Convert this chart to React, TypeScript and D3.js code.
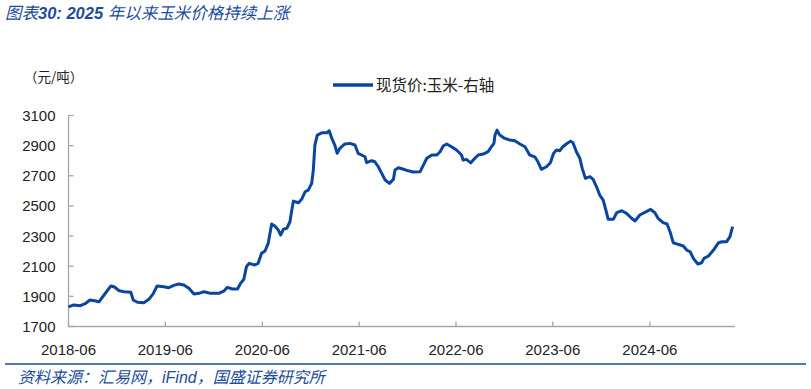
import React, { useEffect, useRef } from "react";
import * as d3 from "d3";

// 现货价:玉米 (元/吨)
const dates = [
  "2018-06-01", "2018-06-21", "2018-07-16", "2018-08-05", "2018-08-21", "2018-09-12", "2018-09-24",
  "2018-10-13", "2018-11-08", "2018-11-20", "2018-12-09", "2018-12-28", "2019-01-22", "2019-01-31",
  "2019-02-16", "2019-03-12", "2019-03-31", "2019-04-16", "2019-05-01", "2019-05-26", "2019-06-14",
  "2019-07-03", "2019-07-22", "2019-08-10", "2019-08-29", "2019-09-17", "2019-10-06", "2019-10-25",
  "2019-11-19", "2019-12-20", "2020-01-09", "2020-01-21", "2020-02-09", "2020-02-28", "2020-03-11",
  "2020-03-23", "2020-04-02", "2020-04-12", "2020-05-03", "2020-05-16", "2020-05-29", "2020-06-11",
  "2020-06-23", "2020-07-06", "2020-07-18", "2020-07-31", "2020-08-09", "2020-08-19", "2020-09-01",
  "2020-09-13", "2020-09-20", "2020-09-26", "2020-10-15", "2020-10-27", "2020-11-09", "2020-11-21",
  "2020-12-04", "2020-12-10", "2020-12-16", "2020-12-25", "2021-01-11", "2021-01-30", "2021-02-08",
  "2021-02-18", "2021-03-01", "2021-03-10", "2021-03-20", "2021-04-08", "2021-04-27", "2021-05-16",
  "2021-05-28", "2021-06-10", "2021-06-23", "2021-06-29", "2021-07-18", "2021-07-30", "2021-08-12",
  "2021-08-25", "2021-09-07", "2021-09-23", "2021-10-08", "2021-10-14", "2021-10-27", "2021-11-15",
  "2021-12-03", "2021-12-22", "2022-01-17", "2022-01-29", "2022-02-11", "2022-03-02", "2022-03-21",
  "2022-04-02", "2022-04-14", "2022-04-27", "2022-05-15", "2022-06-03", "2022-06-22", "2022-06-28",
  "2022-07-10", "2022-07-27", "2022-08-11", "2022-08-24", "2022-09-12", "2022-09-30", "2022-10-13",
  "2022-10-22", "2022-10-26", "2022-11-03", "2022-11-13", "2022-12-02", "2022-12-21", "2023-01-09",
  "2023-01-28", "2023-02-16", "2023-03-06", "2023-03-25", "2023-04-06", "2023-04-19", "2023-05-08",
  "2023-05-23", "2023-06-04", "2023-06-15", "2023-06-27", "2023-07-09", "2023-07-22", "2023-08-07",
  "2023-08-16", "2023-08-29", "2023-09-11", "2023-09-20", "2023-10-02", "2023-10-19", "2023-10-31",
  "2023-11-13", "2023-11-25", "2023-12-08", "2023-12-18", "2023-12-27", "2024-01-15", "2024-01-28",
  "2024-02-16", "2024-03-05", "2024-03-24", "2024-04-06", "2024-04-24", "2024-05-13", "2024-06-04",
  "2024-06-20", "2024-07-02", "2024-07-21", "2024-08-05", "2024-08-16", "2024-08-28", "2024-09-16",
  "2024-10-05", "2024-10-18", "2024-10-31", "2024-11-12", "2024-11-29", "2024-12-13", "2024-12-22",
  "2025-01-08", "2025-01-27", "2025-02-15", "2025-02-28", "2025-03-17", "2025-03-30", "2025-04-09",
];

const prices = [
  1830, 1843, 1838, 1854, 1876, 1869, 1864,
  1909, 1969, 1964, 1937, 1931, 1927, 1876,
  1861, 1858, 1880, 1916, 1969, 1964, 1957,
  1973, 1982, 1975, 1953, 1916, 1920, 1931,
  1920, 1920, 1937, 1960, 1949, 1949, 1987,
  2013, 2097, 2119, 2108, 2119, 2186, 2201,
  2252, 2380, 2367, 2340, 2307, 2345, 2351,
  2395, 2473, 2532, 2521, 2544, 2594, 2605,
  2650, 2738, 2904, 2970, 2985, 2985, 2999,
  2948, 2904, 2849, 2882, 2911, 2915, 2904,
  2849, 2838, 2826, 2787, 2800, 2793, 2760,
  2716, 2672, 2650, 2676, 2738, 2753, 2743,
  2733, 2725, 2727, 2771, 2816, 2838, 2838,
  2860, 2897, 2911, 2893, 2871, 2838, 2804,
  2809, 2786, 2816, 2838, 2844, 2860, 2893,
  2915, 2970, 3003, 2970, 2948, 2937, 2932,
  2911, 2893, 2838, 2826, 2793, 2743, 2760,
  2787, 2849, 2871, 2866, 2893, 2911, 2930,
  2919, 2859, 2816, 2749, 2683, 2694, 2676,
  2627, 2572, 2539, 2473, 2411, 2411, 2455,
  2468, 2451, 2418, 2400, 2440, 2457, 2477,
  2455, 2418, 2389, 2380, 2329, 2256, 2245,
  2234, 2207, 2196, 2152, 2115, 2123, 2152,
  2168, 2207, 2256, 2262, 2262, 2296, 2362,
];

const yTicks = [1700, 1900, 2100, 2300, 2500, 2700, 2900, 3100];
const xTickLabels = ["2018-06", "2019-06", "2020-06", "2021-06", "2022-06", "2023-06", "2024-06"];

const WIDTH = 811;
const HEIGHT = 389;
const LINE_COLOR = "#0a469f";
const TEXT_BLUE = "#1a4d9c";
const AXIS_COLOR = "#a6a6a6";
const CJK = "'Noto Sans CJK SC', 'Liberation Sans', sans-serif";
const NUM = "'Liberation Sans', Arial, sans-serif";

function CornChart() {
  const ref = useRef<SVGSVGElement>(null);

  useEffect(() => {
    const svg = d3.select(ref.current);
    svg.selectAll("*").remove();

    const parse = d3.timeParse("%Y-%m-%d");
    const data = dates.map((d, i) => ({ date: parse(d) as Date, value: prices[i] }));

    const x = d3.scaleTime()
      .domain([parse("2018-06-01") as Date, parse("2025-04-18") as Date])
      .range([68.5, 735]);
    const y = d3.scaleLinear().domain([1700, 3100]).range([326.5, 115.5]);

    // title
    const title = svg.append("text")
      .attr("x", 5).attr("y", 19)
      .attr("font-size", 16.5).attr("font-style", "italic")
      .attr("fill", TEXT_BLUE).attr("font-family", CJK);
    title.append("tspan").text("图表");
    title.append("tspan").attr("font-family", NUM).attr("font-weight", "bold").text("30:  2025 ");
    title.append("tspan").text("年以来玉米价格持续上涨");

    // unit
    svg.append("text")
      .attr("x", 24).attr("y", 82)
      .attr("font-size", 13.5).attr("font-family", CJK).attr("fill", "#222")
      .text("（元/吨）");

    // legend
    svg.append("line")
      .attr("x1", 333).attr("x2", 373).attr("y1", 85).attr("y2", 85)
      .attr("stroke", LINE_COLOR).attr("stroke-width", 3.5);
    svg.append("text")
      .attr("x", 376).attr("y", 90.5)
      .attr("font-size", 15.5).attr("font-family", CJK).attr("fill", "#222")
      .text("现货价:玉米-右轴");

    // y axis
    const yAxis = svg.append("g").attr("transform", "translate(68.5,0)");
    yAxis.append("line")
      .attr("y1", y(3100)).attr("y2", y(1700))
      .attr("stroke", AXIS_COLOR).attr("stroke-width", 1.3);
    yAxis.selectAll("line.tick")
      .data(yTicks)
      .enter()
      .append("line")
      .attr("class", "tick")
      .attr("x1", 0).attr("x2", 5)
      .attr("y1", d => y(d)).attr("y2", d => y(d))
      .attr("stroke", AXIS_COLOR).attr("stroke-width", 1.3);
    yAxis.selectAll("text")
      .data(yTicks)
      .enter()
      .append("text")
      .attr("x", -13)
      .attr("y", d => y(d) + 5.5)
      .attr("text-anchor", "end")
      .attr("font-size", 15).attr("font-family", NUM).attr("fill", "#222")
      .text(d => d);

    // x axis
    const xTickDates = xTickLabels.map(s => parse(s + "-01") as Date);
    const xAxis = svg.append("g").attr("transform", `translate(0,${y(1700)})`);
    xAxis.append("line")
      .attr("x1", x.range()[0]).attr("x2", x.range()[1])
      .attr("stroke", AXIS_COLOR).attr("stroke-width", 1.3);
    xAxis.selectAll("line.tick")
      .data(xTickDates)
      .enter()
      .append("line")
      .attr("class", "tick")
      .attr("x1", d => x(d)).attr("x2", d => x(d))
      .attr("y1", 0).attr("y2", -5)
      .attr("stroke", AXIS_COLOR).attr("stroke-width", 1.3);
    xAxis.selectAll("text")
      .data(xTickDates)
      .enter()
      .append("text")
      .attr("x", d => x(d))
      .attr("y", 28)
      .attr("text-anchor", "middle")
      .attr("font-size", 15).attr("font-family", NUM).attr("fill", "#222")
      .text((_, i) => xTickLabels[i]);

    // price line
    const line = d3.line<{ date: Date; value: number }>()
      .x(d => x(d.date))
      .y(d => y(d.value));
    svg.append("path")
      .datum(data)
      .attr("d", line)
      .attr("fill", "none")
      .attr("stroke", LINE_COLOR)
      .attr("stroke-width", 3)
      .attr("stroke-linejoin", "round");

    // footer
    svg.append("line")
      .attr("x1", 5).attr("x2", 806).attr("y1", 364).attr("y2", 364)
      .attr("stroke", TEXT_BLUE).attr("stroke-width", 1.5);
    const src = svg.append("text")
      .attr("x", 18).attr("y", 383)
      .attr("font-size", 16).attr("font-style", "italic")
      .attr("fill", TEXT_BLUE).attr("font-family", CJK);
    src.append("tspan").text("资料来源：汇易网，");
    src.append("tspan").attr("font-family", NUM).text("iFind");
    src.append("tspan").text("，国盛证券研究所");
  }, []);

  return <svg ref={ref} width={WIDTH} height={HEIGHT} style={{ position: "absolute", left: 0, top: 0, background: "#fff" }} />;
}

export default function App() {
  return <CornChart />;
}
